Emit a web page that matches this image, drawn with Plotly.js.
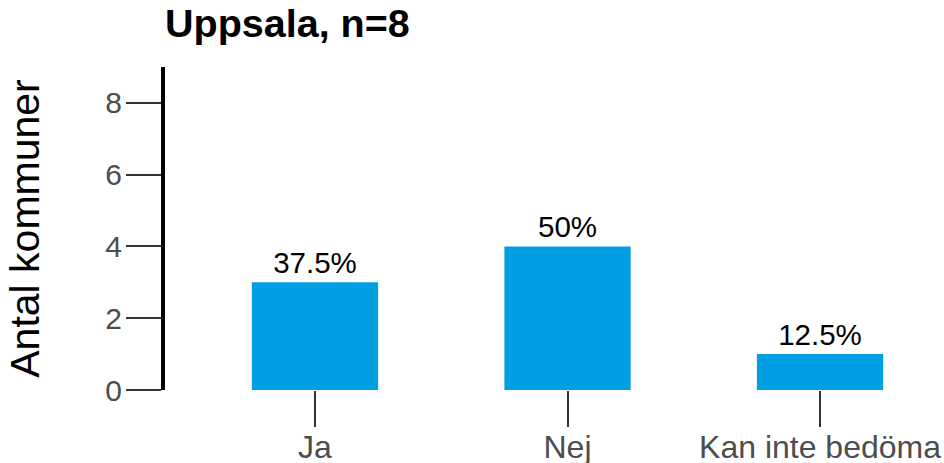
<!DOCTYPE html>
<html>
<head>
<meta charset="utf-8">
<script src="https://cdn.plot.ly/plotly-3.0.1.min.js"></script>
<style>html,body{margin:0;padding:0;background:#fff}#chart{width:944px;height:463px}</style>
</head>
<body>
<div id="chart"></div>
<script>
const categories = ["Ja", "Nej", "Kan inte bedöma"];
const counts = [3, 4, 1];
const percentLabels = ["37.5%", "50%", "12.5%"];
const yTicks = [0, 2, 4, 6, 8];
const chartTitle = "Uppsala, n=8";
const yTitle = "Antal kommuner";

const FONT = "Liberation Sans, Arial, sans-serif";

const trace = {
  type: "bar",
  x: categories,
  y: counts,
  text: percentLabels,
  textposition: "outside",
  textfont: {family: FONT, size: 29.5, color: "#000"},
  cliponaxis: false,
  width: 0.5,
  marker: {color: "#009fe3"},
  hoverinfo: "none"
};

const layout = {
  width: 944,
  height: 463,
  margin: {l: 165, r: 0, t: 67, b: 73},
  paper_bgcolor: "#fff",
  plot_bgcolor: "#fff",
  showlegend: false,
  font: {family: FONT},
  title: {
    text: "<b>" + chartTitle + "</b>",
    font: {family: FONT, size: 39.5, color: "#000"},
    x: 165 / 944,
    xanchor: "left",
    xref: "container",
    y: 1 - 9 / 463,
    yanchor: "top",
    yref: "container"
  },
  xaxis: {
    type: "category",
    range: [-0.594, 2.491],
    showline: false,
    showgrid: false,
    zeroline: false,
    ticks: "outside",
    ticklen: 36,
    tickwidth: 2,
    tickcolor: "#333",
    ticklabelstandoff: -7,
    tickfont: {family: FONT, size: 32, color: "#4d4d4d"},
    automargin: false
  },
  yaxis: {
    range: [0, 9],
    tickvals: yTicks,
    ticktext: yTicks.map(String),
    showline: true,
    linecolor: "#000",
    linewidth: 4,
    showgrid: false,
    zeroline: false,
    ticks: "outside",
    ticklen: 35,
    tickwidth: 2,
    tickcolor: "#333",
    ticklabelstandoff: -2,
    tickfont: {family: FONT, size: 30, color: "#4d4d4d"},
    title: {text: yTitle, font: {family: FONT, size: 41, color: "#000"}, standoff: 54},
    automargin: false
  }
};

Plotly.newPlot("chart", [trace], layout, {displayModeBar: false, staticPlot: true});
</script>
</body>
</html>
